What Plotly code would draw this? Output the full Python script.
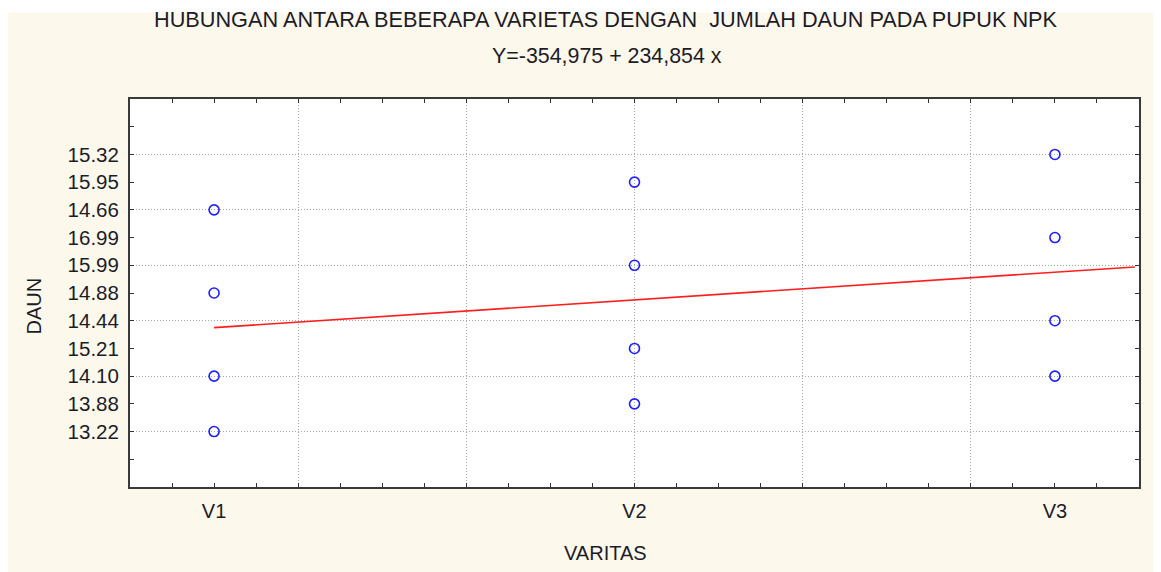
import numpy as np
import plotly.graph_objects as go

# ---- data ----
varieties = ["V1", "V2", "V3"]
# y-axis tick labels, bottom to top (as printed on the chart)
y_labels = ["13.22", "13.88", "14.10", "15.21", "14.44", "14.88",
            "15.99", "16.99", "14.66", "15.95", "15.32"]
v1_values = ["14.66", "14.88", "14.10", "13.22"]
v2_values = ["15.95", "15.99", "15.21", "13.88"]
v3_values = ["15.32", "16.99", "14.44", "14.10"]

title_text = "HUBUNGAN ANTARA BEBERAPA VARIETAS DENGAN  JUMLAH DAUN PADA PUPUK NPK"
subtitle_text = "Y=-354,975 + 234,854 x"
x_title = "VARITAS"
y_title = "DAUN"

# ---- build ----
groups = [v1_values, v2_values, v3_values]
xs, ys = [], []
for i, vals in enumerate(groups):
    for v in vals:
        xs.append(i + 1)
        ys.append(y_labels.index(v))
xs = np.array(xs, dtype=float)
ys = np.array(ys, dtype=float)
slope, intercept = np.polyfit(xs, ys, 1)

x_range = [0.8, 3.2]
y_range = [-2, 12]
line_x = np.array([1.0, 3.19])
line_y = intercept + slope * line_x

FONT = "Liberation Sans, Arial, sans-serif"
TXT = "#1c1c28"
BG = "#fdf8ec"

fig = go.Figure()
# dummy trace to hold grid axes
fig.add_trace(go.Scatter(x=[None], y=[None], xaxis="x2", yaxis="y2",
                         showlegend=False, hoverinfo="skip"))
fig.add_trace(go.Scatter(x=line_x, y=line_y, mode="lines",
                         line=dict(color="#ff1e1e", width=1.6),
                         showlegend=False, hoverinfo="skip"))
fig.add_trace(go.Scatter(x=xs, y=ys, mode="markers",
                         marker=dict(symbol="circle-open", size=10,
                                     color="#1e1eff", line=dict(width=1.6, color="#1e1eff")),
                         showlegend=False))

x_ticks = np.round(np.arange(0.9, 3.15, 0.1), 2)
x_text = [varieties[int(round(v)) - 1] if abs(v - round(v)) < 1e-6 and 1 <= round(v) <= 3 else "" for v in x_ticks]
y_ticks = list(range(-1, 12))
y_text = [y_labels[v] if 0 <= v < len(y_labels) else "" for v in y_ticks]

fig.update_layout(
    width=1161, height=572,
    margin=dict(l=122, r=30, t=91, b=93),
    paper_bgcolor=BG, plot_bgcolor="white",
    font=dict(family=FONT, size=20, color=TXT),
    xaxis=dict(range=x_range, tickmode="array", tickvals=x_ticks, ticktext=x_text,
               ticks="inside", ticklen=4, tickwidth=1, tickcolor="#333",
               showgrid=False, zeroline=False, showline=True, linecolor="#3a3a3a",
               linewidth=2, mirror="allticks", tickfont=dict(size=20, color=TXT),
               ticklabelstandoff=5),
    yaxis=dict(range=y_range, tickmode="array", tickvals=y_ticks, ticktext=y_text,
               ticks="inside", ticklen=4, tickwidth=1, tickcolor="#333",
               showgrid=False, zeroline=False, showline=True, linecolor="#3a3a3a",
               linewidth=2, mirror="allticks", tickfont=dict(size=20.5, color=TXT),
               ticklabelstandoff=5),
    xaxis2=dict(range=x_range, overlaying="x", anchor="y2", tickmode="array",
                tickvals=[1.2, 1.6, 2.0, 2.4, 2.8], showticklabels=False, ticks="",
                showgrid=True, gridcolor="#a8a8a8", gridwidth=1, griddash="1px,2px",
                zeroline=False, showline=False),
    yaxis2=dict(range=y_range, overlaying="y", anchor="x2", tickmode="array",
                tickvals=[0, 2, 4, 6, 8, 10], showticklabels=False, ticks="",
                showgrid=True, gridcolor="#a8a8a8", gridwidth=1, griddash="1px,2px",
                zeroline=False, showline=False),
    shapes=[
        dict(type="rect", xref="paper", yref="paper", x0=-0.13, x1=1.04,
             y0=1.2222, y1=1.26, fillcolor="white", line=dict(width=0), layer="below"),
    ],
    annotations=[
        dict(text=title_text, xref="paper", yref="paper", x=0.4716, y=1.2042,
             xanchor="center", yanchor="middle", showarrow=False,
             font=dict(size=21.7, color=TXT)),
        dict(text=subtitle_text, xref="paper", yref="paper", x=0.4731, y=1.1097,
             xanchor="center", yanchor="middle", showarrow=False,
             font=dict(size=21.4, color=TXT)),
        dict(text=x_title, xref="paper", yref="paper", x=0.4716, y=-0.1707,
             xanchor="center", yanchor="middle", showarrow=False,
             font=dict(size=20, color=TXT)),
        dict(text=y_title, xref="paper", yref="paper", x=-0.0961, y=0.4652,
             xanchor="center", yanchor="middle", showarrow=False, textangle=-90,
             font=dict(size=20, color=TXT)),
    ],
)

fig.write_html("out.html")
